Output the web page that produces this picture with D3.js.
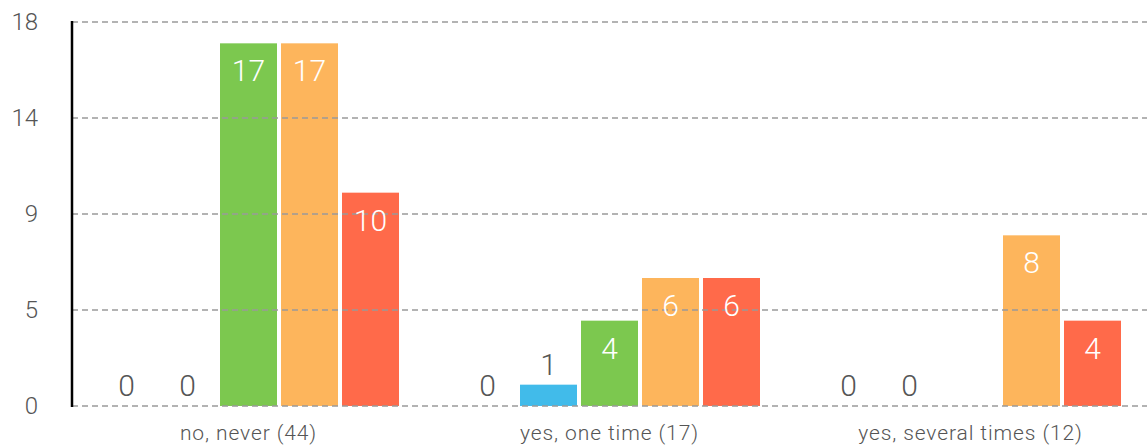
<!DOCTYPE html>
<html><head><meta charset="utf-8">
<script src="https://cdn.jsdelivr.net/npm/d3@7"></script>
<style>
html,body{margin:0;padding:0;background:#fff;}
svg{display:block;font-family:Roboto,"Helvetica Neue",Arial,sans-serif;font-weight:300;}
</style></head>
<body><svg id="chart" width="1147" height="447"></svg>
<script>
const categories = ["no, never (44)", "yes, one time (17)", "yes, several times (12)"];
const seriesNames = ["s1", "s2", "s3", "s4", "s5"];
const seriesColors = ["#9e9e9e", "#41bbea", "#7cc84f", "#fdb55c", "#ff6a4a"];
const s1 = [0, 0, 0];
const s2 = [0, 1, 0];
const s3 = [17, 4, null];
const s4 = [17, 6, 8];
const s5 = [10, 6, 4];
const seriesValues = [s1, s2, s3, s4, s5];
const tickValues = [0, 4.5, 9, 13.5, 18];
const tickLabels = ["0", "5", "9", "14", "18"];

const svg = d3.select("#chart");
const W = 1147, H = 447;
const x0 = d3.scaleBand().domain(categories).range([68, 1151]);
const x1 = d3.scaleBand().domain(seriesNames).range([30, x0.bandwidth() - 30]).paddingInner(4/61).paddingOuter(0);
const y = d3.scaleLinear().domain([0, 18]).range([406, 22]);

const data = [];
categories.forEach((c, ci) => {
  seriesNames.forEach((s, si) => {
    data.push({c, s, si, v: seriesValues[si][ci]});
  });
});

// bars
svg.append("g").selectAll("rect").data(data.filter(d => d.v != null && d.v > 0)).join("rect")
  .attr("x", d => x0(d.c) + x1(d.s))
  .attr("y", d => y(d.v))
  .attr("width", x1.bandwidth())
  .attr("height", d => y(0) - y(d.v))
  .attr("fill", d => seriesColors[d.si]);

// gridlines (on top)
svg.append("g").selectAll("line").data(tickValues).join("line")
  .attr("x1", 72).attr("x2", W)
  .attr("y1", d => y(d)).attr("y2", d => y(d))
  .attr("stroke", "#999").attr("stroke-opacity", 0.75)
  .attr("stroke-width", 2).attr("stroke-dasharray", "6,4");

// y axis line
svg.append("line").attr("x1", 72).attr("x2", 72).attr("y1", y(18) - 1).attr("y2", y(0) + 1)
  .attr("stroke", "#000").attr("stroke-width", 2.5);

// tick labels
svg.append("g").selectAll("text").data(tickValues).join("text")
  .attr("x", 38).attr("y", d => y(d))
  .attr("text-anchor", "end").attr("dominant-baseline", "central")
  .attr("font-size", 24).attr("fill", "#555")
  .text((d, i) => tickLabels[i]);

// category labels
svg.append("g").selectAll("text").data(categories).join("text")
  .attr("x", d => x0(d) + x0.bandwidth() / 2).attr("y", 440)
  .attr("text-anchor", "middle").attr("font-size", 21).attr("letter-spacing", 0.9)
  .attr("fill", "#555")
  .text(d => d);

// value labels
svg.append("g").selectAll("text").data(data.filter(d => d.v != null)).join("text")
  .attr("x", d => x0(d.c) + x1(d.s) + x1.bandwidth() / 2)
  .attr("y", d => (y(0) - y(d.v)) > 50 ? y(d.v) + 38 : y(d.v) - 10)
  .attr("text-anchor", "middle").attr("font-size", 30)
  .attr("fill", d => (y(0) - y(d.v)) > 50 ? "#fff" : "#555")
  .text(d => d.v);
</script></body></html>
